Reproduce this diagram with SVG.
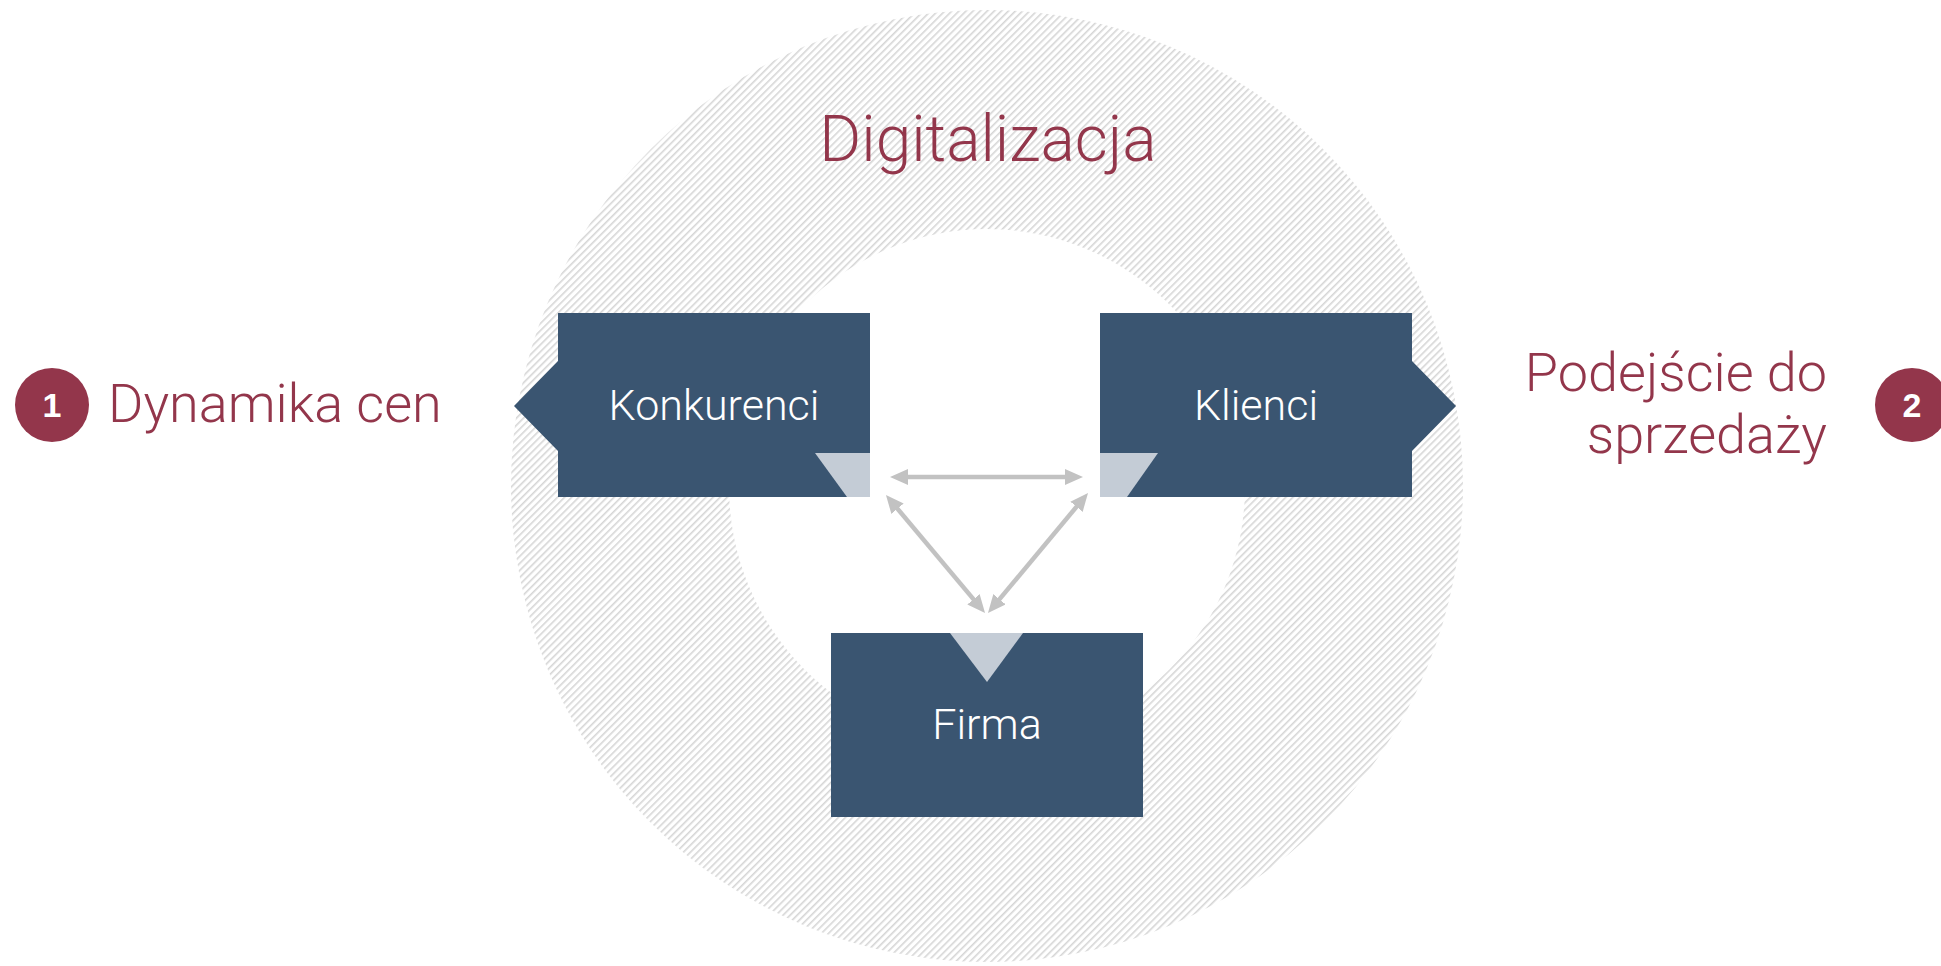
<svg xmlns="http://www.w3.org/2000/svg" width="1941" height="966" viewBox="0 0 1941 966">
  <style>
    .box { fill: #3a5571; }
    .tab { fill: #c4ccd6; }
    .label { font-family: Roboto, "Liberation Sans", sans-serif; font-weight: 300; fill: #ffffff; font-size: 43px; text-anchor: middle; }
    .title { font-family: Roboto, "Liberation Sans", sans-serif; font-weight: 300; fill: #93364b; }
    .badge { fill: #93364b; }
    .badge-num { font-family: "Liberation Sans", Arial, sans-serif; font-weight: bold; fill: #ffffff; font-size: 34px; text-anchor: middle; }
    .link { stroke: #c2c2c2; stroke-width: 4.5; fill: none; marker-start: url(#head); marker-end: url(#head); }
  </style>
  <defs>
    <pattern id="hatch" patternUnits="userSpaceOnUse" width="5" height="10" patternTransform="rotate(45)">
      <rect x="0" y="0" width="1.6" height="10" fill="#d6d6d6"/>
    </pattern>
    <marker id="head" markerUnits="userSpaceOnUse" markerWidth="20" markerHeight="18" refX="10" refY="8" orient="auto-start-reverse">
      <path d="M0,0 L18,8 L0,16 z" fill="#c2c2c2"/>
    </marker>
    <mask id="ring">
      <rect width="1941" height="966" fill="#fff"/>
      <circle cx="987" cy="487" r="258" fill="#000"/>
    </mask>
  </defs>

  <rect width="1941" height="966" fill="#ffffff"/>

  <!-- hatched ring around the centre -->
  <g id="ring-band">
    <circle cx="987" cy="486" r="476" fill="url(#hatch)" mask="url(#ring)"/>
  </g>

  <g id="digitalizacja">
    <text class="title" x="988" y="161" font-size="64" text-anchor="middle">Digitalizacja</text>
  </g>

  <!-- connectors between the three parties -->
  <g id="connectors">
    <line class="link" x1="898" y1="477" x2="1075" y2="477"/>
    <line class="link" x1="891.1" y1="501.1" x2="979.9" y2="606.9"/>
    <line class="link" x1="1082.9" y1="499.1" x2="993.1" y2="606.9"/>
  </g>

  <g id="konkurenci">
    <polygon class="box" points="558,313 870,313 870,497 558,497 558,451 514,406 558,361"/>
    <polygon class="tab" points="815,453 870,453 870,497 847,497"/>
    <text class="label" x="714" y="420">Konkurenci</text>
  </g>

  <g id="klienci">
    <polygon class="box" points="1100,313 1412,313 1412,361 1456,406 1412,451 1412,497 1100,497"/>
    <polygon class="tab" points="1100,453 1158,453 1127,497 1100,497"/>
    <text class="label" x="1256" y="420">Klienci</text>
  </g>

  <g id="firma">
    <rect class="box" x="831" y="633" width="312" height="184"/>
    <polygon class="tab" points="950,633 1023,633 987,682"/>
    <text class="label" x="987" y="739">Firma</text>
  </g>

  <g id="dynamika-cen">
    <circle class="badge" cx="52" cy="405" r="37"/>
    <text class="badge-num" x="52" y="417">1</text>
    <text class="title" x="108" y="422" font-size="54">Dynamika cen</text>
  </g>

  <g id="podejscie">
    <circle class="badge" cx="1912" cy="405" r="37"/>
    <text class="badge-num" x="1912" y="417">2</text>
    <text class="title" x="1827" y="391" font-size="54" text-anchor="end">Podejście do</text>
    <text class="title" x="1827" y="453" font-size="54" text-anchor="end">sprzedaży</text>
  </g>
</svg>
